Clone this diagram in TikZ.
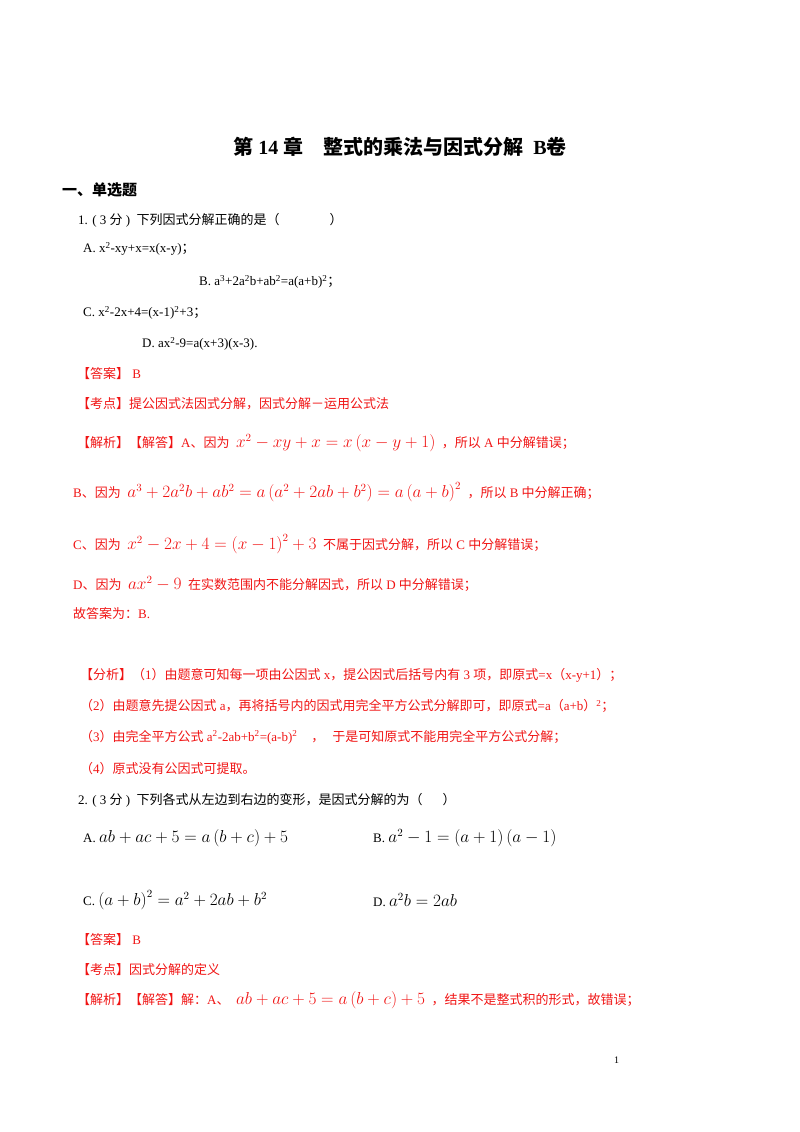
\documentclass[tikz,border=0pt]{standalone}
\usepackage{fontspec}
\setmainfont{Liberation Serif}
\newfontfamily\cjk{Noto Sans CJK SC}
\newfontfamily\lat{Liberation Serif}
\XeTeXinterchartokenstate=1
\newXeTeXintercharclass\CJKcls
\count255="3000
\loop\XeTeXcharclass\count255=\CJKcls\advance\count255 by 1\ifnum\count255<"A000\repeat
\count255="FF00
\loop\XeTeXcharclass\count255=\CJKcls\advance\count255 by 1\ifnum\count255<"FFF0\repeat
\XeTeXinterchartoks 0 \CJKcls={\cjk}
\XeTeXinterchartoks 4095 \CJKcls={\cjk}
\XeTeXinterchartoks \CJKcls 0={\lat}
\XeTeXinterchartoks \CJKcls 4095={\lat}
\definecolor{rd}{RGB}{240,20,20}
\newcommand{\mm}[1]{{\fontsize{16}{18}\selectfont$#1$}}
\begin{document}
\begin{tikzpicture}[x=1pt,y=-1pt,
  t/.style={anchor=west,inner sep=0pt,font=\fontsize{13}{15}\selectfont},
  r/.style={t,text=rd}]
\useasboundingbox (0,0) rectangle (800,1132);
\node[font=\fontsize{20}{22}\selectfont\bfseries,inner sep=0] (title) at (400,147) {第 14 章\quad 整式的乘法与因式分解\ \ B卷};
\node[t,font=\fontsize{15}{17}\selectfont\bfseries] (s1) at (62,190) {一、单选题};
\node[t] (q1) at (78,220) {1. ( 3 分 ) \ 下列因式分解正确的是（\hspace{50pt}）};
\node[t] (a1) at (83,249) {A. x\textsuperscript{2}-xy+x=x(x-y)；};
\node[t] (b1) at (199,282) {B. a\textsuperscript{3}+2a\textsuperscript{2}b+ab\textsuperscript{2}=a(a+b)\textsuperscript{2}；};
\node[t] (c1) at (83,313) {C. x\textsuperscript{2}-2x+4=(x-1)\textsuperscript{2}+3；};
\node[t] (d1) at (142,344) {D. ax\textsuperscript{2}-9=a(x+3)(x-3).};
\node[r] (ans1) at (77,374) {【答案】 B};
\node[r] (kd1) at (77,404) {【考点】提公因式法因式分解，因式分解－运用公式法};
\node[r] (jx1) at (77,443) {【解析】【解答】A、因为 \ \mm{x^2-xy+x=x\left(x-y+1\right)} \ ，所以 A 中分解错误；};
\node[r] (jb) at (73,492) {B、因为 \ \mm{a^3+2a^2b+ab^2=a\left(a^2+2ab+b^2\right)=a\left(a+b\right)^2} \ ，所以 B 中分解正确；};
\node[r] (jc) at (73,544) {C、因为 \ \mm{x^2-2x+4=\left(x-1\right)^2+3} \ 不属于因式分解，所以 C 中分解错误；};
\node[r] (jd) at (73,584) {D、因为 \ \mm{ax^2-9} \ 在实数范围内不能分解因式，所以 D 中分解错误；};
\node[r] (gd) at (73,614) {故答案为：B.};
\node[r] (f1) at (80,675) {【分析】（1）由题意可知每一项由公因式 x，提公因式后括号内有 3 项，即原式=x（x-y+1）；};
\node[r] (f2) at (80,706) {（2）由题意先提公因式 a，再将括号内的因式用完全平方公式分解即可，即原式=a（a+b）\textsuperscript{2}；};
\node[r] (f3) at (80,737) {（3）由完全平方公式 a\textsuperscript{2}-2ab+b\textsuperscript{2}=(a-b)\textsuperscript{2}\hspace{14pt}，\hspace{8pt}于是可知原式不能用完全平方公式分解；};
\node[r] (f4) at (80,769) {（4）原式没有公因式可提取。};
\node[t] (q2) at (78,800) {2. ( 3 分 ) \ 下列各式从左边到右边的变形，是因式分解的为（\hspace{20pt}）};
\node[t] (a2) at (83,838) {A. \mm{ab+ac+5=a\left(b+c\right)+5}};
\node[t] (b2) at (373,838) {B. \mm{a^2-1=\left(a+1\right)\left(a-1\right)}};
\node[t] (c2) at (83,900) {C. \mm{\left(a+b\right)^2=a^2+2ab+b^2}};
\node[t] (d2) at (373,900) {D. \mm{a^2b=2ab}};
\node[r] (ans2) at (77,940) {【答案】 B};
\node[r] (kd2) at (77,970) {【考点】因式分解的定义};
\node[r] (jx2) at (77,1000) {【解析】【解答】解：A、 \ \mm{ab+ac+5=a\left(b+c\right)+5} \ ，结果不是整式积的形式，故错误；};
\node[t,font=\fontsize{10}{12}\selectfont] (pg) at (614,1060) {1};
\end{tikzpicture}
\end{document}
